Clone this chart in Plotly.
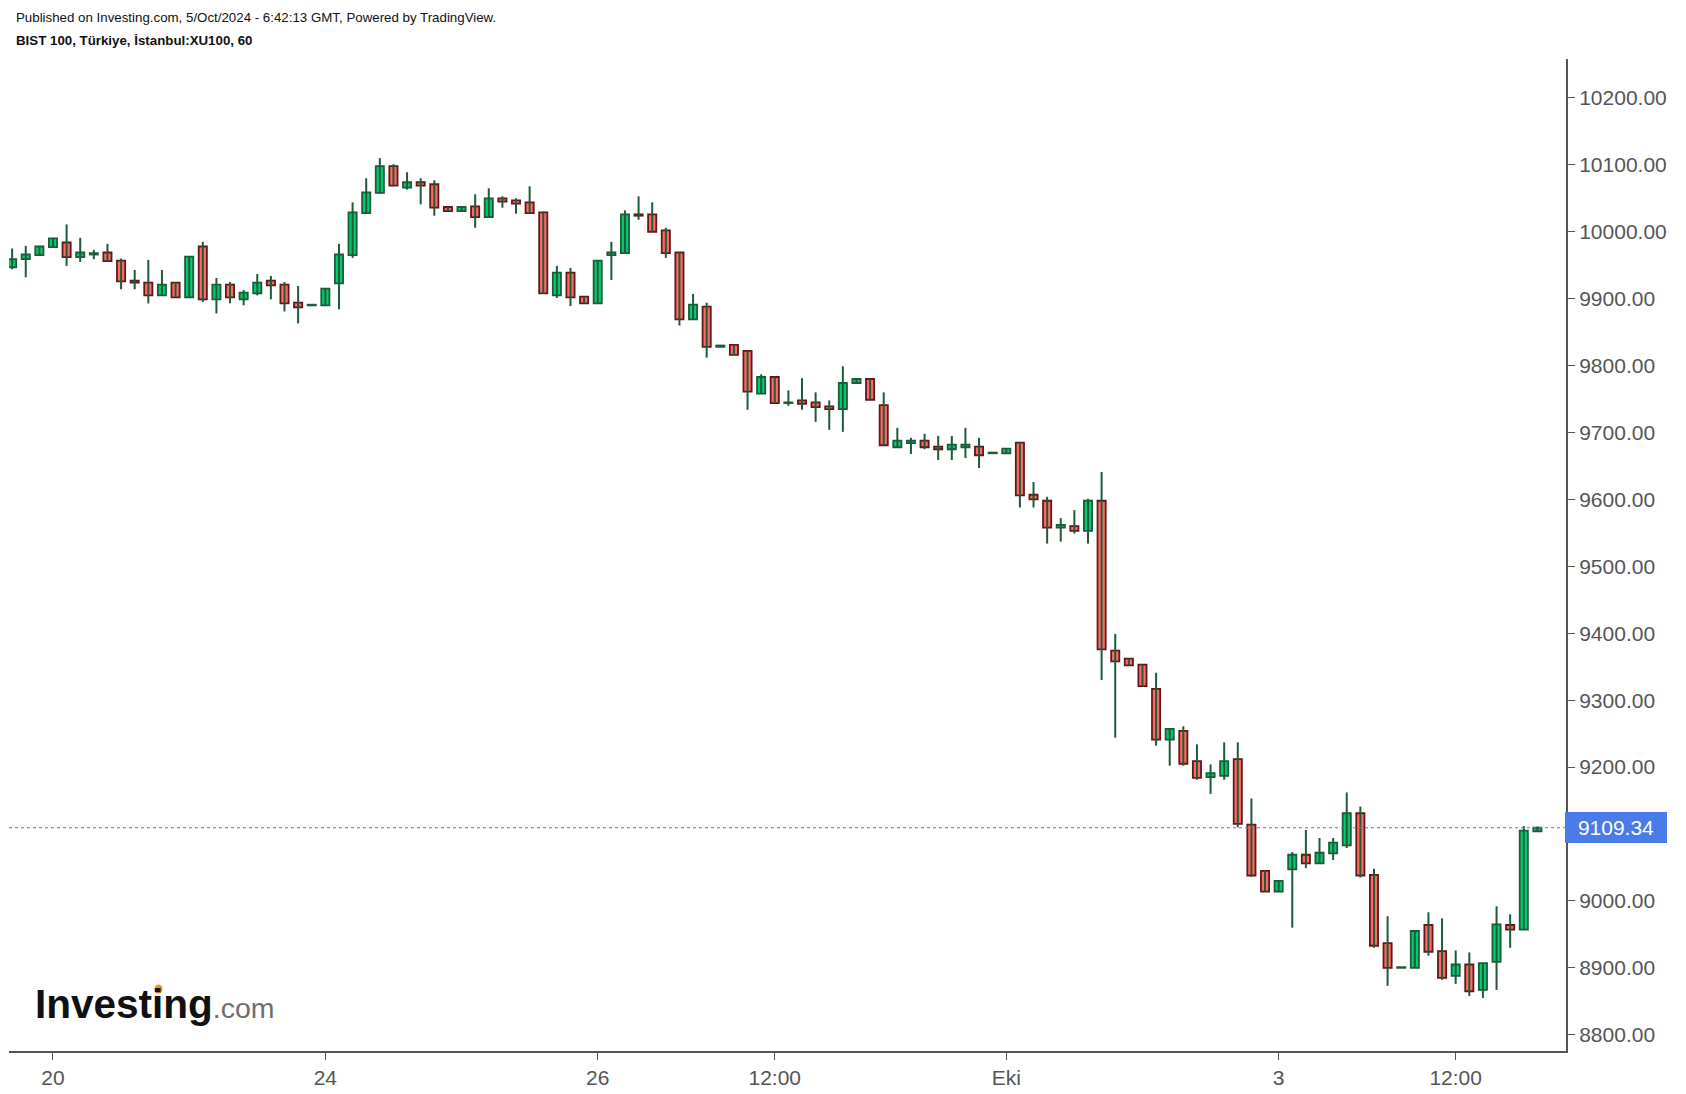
import plotly.graph_objects as go

# ---- data (BIST 100, 60-minute candles) ----
opens = [9947, 9959, 9965, 9977, 9984, 9962, 9966, 9969, 9957, 9927,
         9924, 9905, 9924, 9902, 9978, 9899, 9921, 9899, 9908, 9927,
         9921, 9894, 9890, 9890, 9923, 9965, 10028, 10058, 10098, 10066,
         10074, 10071, 10037, 10031, 10038, 10022, 10050, 10047, 10044, 10029,
         9905, 9939, 9903, 9893, 9965, 9968, 10026, 10026, 10002, 9969,
         9869, 9888, 9828, 9831, 9822, 9758, 9783, 9744, 9748, 9745,
         9739, 9735, 9774, 9780, 9741, 9678, 9684, 9688, 9679, 9675,
         9678, 9679, 9669, 9669, 9685, 9607, 9598, 9558, 9560, 9553,
         9598, 9374, 9362, 9353, 9317, 9241, 9254, 9209, 9185, 9187,
         9212, 9114, 9045, 9014, 9047, 9069, 9056, 9071, 9083, 9131,
         9039, 8937, 8900, 8900, 8964, 8925, 8888, 8905, 8867, 8909,
         8964, 8957, 9104]
highs = [9975, 9979, 9979, 9991, 10011, 9991, 9973, 9982, 9960, 9943,
         9958, 9943, 9925, 9963, 9985, 9931, 9925, 9913, 9937, 9934,
         9925, 9919, 9891.5, 9915, 9982, 10044, 10080, 10110, 10101, 10089,
         10080, 10077, 10037, 10037, 10056, 10065, 10053, 10050, 10068, 10030,
         9949, 9946, 9903, 9957, 9985, 10032, 10053, 10044, 10006, 9970,
         9907, 9894, 9830, 9831, 9822, 9787, 9783, 9763, 9781, 9760,
         9748, 9799, 9780, 9780, 9760, 9707, 9692, 9698, 9695, 9695,
         9707, 9692, 9670, 9676, 9686, 9626, 9604, 9572, 9584, 9601,
         9641, 9399, 9362, 9353, 9341, 9257, 9261, 9234, 9204, 9237,
         9237, 9153, 9045, 9030, 9073, 9106, 9094, 9094, 9162, 9141,
         9048, 8977, 8901, 8955, 8983, 8974, 8926, 8923, 8907, 8992,
         8980, 9112, 9111]
lows = [9944, 9932, 9964, 9976, 9949, 9955, 9959, 9955, 9914, 9914,
        9893, 9905, 9902, 9902, 9895, 9878, 9893, 9890, 9905, 9899,
        9881, 9863, 9890, 9890, 9884, 9961, 10027, 10057, 10069, 10063,
        10041, 10024, 10031, 10031, 10006, 10021, 10036, 10027, 10028, 9907,
        9901, 9889, 9893, 9893, 9928, 9968, 10018, 10000, 9961, 9860,
        9869, 9812, 9828, 9816, 9734, 9758, 9744, 9740, 9734, 9716,
        9704, 9701, 9774, 9749, 9681, 9678, 9668, 9675, 9659, 9659,
        9662, 9647, 9669, 9669, 9588, 9588, 9534, 9537, 9549, 9534,
        9330, 9244, 9352, 9321, 9232, 9202, 9202, 9181, 9160, 9181,
        9110, 9036, 9014, 9014, 8960, 9049, 9056, 9061, 9079, 9035,
        8930, 8873, 8900, 8900, 8918, 8882, 8876, 8858, 8855, 8867,
        8930, 8957, 9104]
closes = [9959, 9966, 9978, 9990, 9962, 9969, 9968, 9956, 9926, 9924,
          9905, 9921, 9902, 9963, 9899, 9921, 9902, 9909, 9924, 9920,
          9893, 9887, 9891, 9915, 9966, 10029, 10059, 10098, 10069, 10074,
          10069, 10036, 10031, 10037, 10022, 10050, 10045, 10042, 10028, 9908,
          9939, 9902, 9893, 9957, 9969, 10026, 10024, 10000, 9968, 9869,
          9891, 9828, 9830, 9816, 9761, 9783, 9744, 9745, 9743, 9738,
          9735, 9774, 9780, 9749, 9681, 9688, 9688, 9678, 9675, 9682,
          9682, 9666, 9670, 9676, 9606, 9600, 9558, 9562, 9553, 9598,
          9376, 9358, 9352, 9321, 9241, 9257, 9205, 9184, 9191, 9209,
          9115, 9038, 9014, 9030, 9069, 9056, 9072, 9087, 9131, 9038,
          8933, 8900, 8901, 8955, 8924, 8885, 8905, 8865, 8907, 8965,
          8957, 9105, 9109.34]

tick_idx = [3, 23, 43, 56, 73, 93, 106]
tick_text = ["20", "24", "26", "12:00", "Eki", "3", "12:00"]
# 9100.00 is hidden behind the last-price label in the reference
price_ticks = [8800, 8900, 9000, 9200, 9300, 9400, 9500, 9600, 9700,
               9800, 9900, 10000, 10100, 10200]
last_price = 9109.34

# ---- styling / layout ----
W, H = 1686, 1094
ML, MR, MT, MB = 9, 120, 59, 43
FONT = "Liberation Sans, Arial, sans-serif"
AXIS = "#555555"
WICK = "#1f5a3a"
GREEN, GREEN_EDGE = "#00cc6d", "#1f5a3a"
RED, RED_EDGE = "#ff6b62", "#5e1a1a"
BLUE = "#4a7be8"
BODY_W = 0.6


def px_to_paper_x(px):
    return (px - ML) / (W - ML - MR)


def px_to_paper_y(py):
    return (H - MB - py) / (H - MT - MB)


x = list(range(len(opens)))
wick_x, wick_y = [], []
for i, (h, l) in enumerate(zip(highs, lows)):
    wick_x += [i, i, None]
    wick_y += [h, l, None]
body_lo = [min(o, c) for o, c in zip(opens, closes)]
body_h = [abs(c - o) for o, c in zip(opens, closes)]
up = [c >= o for o, c in zip(opens, closes)]
fills = [GREEN if u else RED for u in up]
edges = [GREEN_EDGE if u else RED_EDGE for u in up]

fig = go.Figure()
fig.add_trace(go.Scatter(x=wick_x, y=wick_y, mode="lines",
                         line=dict(color=WICK, width=2),
                         hoverinfo="skip", showlegend=False))
fig.add_trace(go.Bar(x=x, y=body_h, base=body_lo, width=BODY_W,
                     marker=dict(color=fills, line=dict(color=edges, width=1.8)),
                     showlegend=False))

fig.add_shape(type="line", xref="paper", x0=0, x1=1, yref="y",
              y0=last_price, y1=last_price,
              line=dict(color=BLUE, width=1, dash="dot"))
# orange dot over the "i" of the Investing.com logo
fig.add_shape(type="circle", xref="paper", yref="paper", layer="above",
              x0=px_to_paper_x(154.5), x1=px_to_paper_x(162.5),
              y0=px_to_paper_y(993.5), y1=px_to_paper_y(984.5),
              fillcolor="#f7931e", line=dict(width=0))

annotations = [
    dict(xref="paper", yref="y", x=1, xanchor="left", xshift=-1,
         y=last_price, yanchor="middle", text=f"{last_price:.2f}",
         showarrow=False, bgcolor=BLUE, borderwidth=0, borderpad=3,
         width=96, height=25, align="center",
         font=dict(family=FONT, size=21, color="white")),
    dict(xref="paper", yref="paper", x=px_to_paper_x(14), y=px_to_paper_y(17),
         xanchor="left", yanchor="middle", showarrow=False,
         text="Published on Investing.com, 5/Oct/2024 - 6:42:13 GMT, Powered by TradingView.",
         font=dict(family=FONT, size=13.3, color="#111111")),
    dict(xref="paper", yref="paper", x=px_to_paper_x(14), y=px_to_paper_y(40),
         xanchor="left", yanchor="middle", showarrow=False,
         text="<b>BIST 100, Türkiye, İstanbul:XU100, 60</b>",
         font=dict(family=FONT, size=13.3, color="#111111")),
    dict(xref="paper", yref="paper", x=px_to_paper_x(33), y=px_to_paper_y(1004),
         xanchor="left", yanchor="middle", showarrow=False,
         text="<b>Investing</b><span style='font-size:28.5px;color:#6e6e6e'>.com</span>",
         font=dict(family=FONT, size=40.5, color="#111111")),
]

fig.update_layout(
    width=W, height=H,
    margin=dict(l=ML, r=MR, t=MT, b=MB, pad=0),
    paper_bgcolor="white", plot_bgcolor="white",
    font=dict(family=FONT, size=21, color=AXIS),
    showlegend=False,
    annotations=annotations,
    xaxis=dict(range=[-0.23, 114.1], automargin=False,
               showgrid=False, zeroline=False, showline=True,
               linecolor=AXIS, linewidth=2, ticks="outside", ticklen=7,
               tickcolor=AXIS, tickwidth=1, tickvals=tick_idx,
               ticktext=tick_text, tickfont=dict(family=FONT, size=21, color=AXIS)),
    yaxis=dict(range=[8775.7, 10258.2], side="right", showgrid=False,
               automargin=False,
               zeroline=False, showline=True, linecolor=AXIS, linewidth=2,
               ticks="outside", ticklen=7, tickcolor=AXIS, tickwidth=1,
               tickvals=price_ticks, tickformat=".2f",
               tickfont=dict(family=FONT, size=21, color=AXIS)),
)

fig.write_html("out.html", config={"displayModeBar": False})
